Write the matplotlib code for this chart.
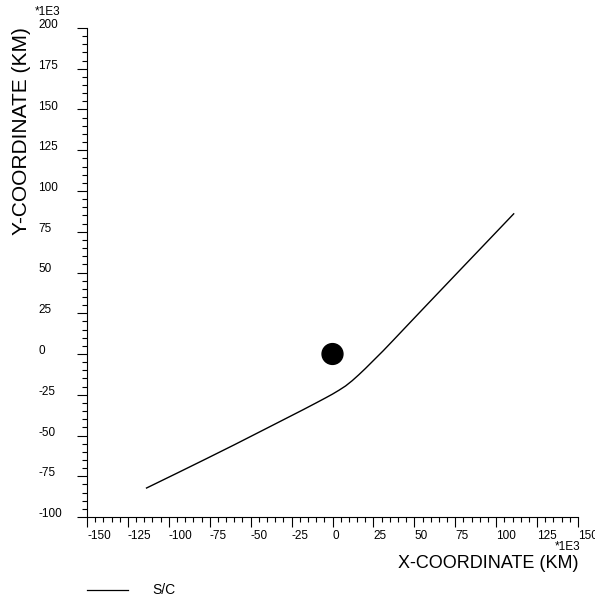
import numpy as np
import matplotlib
matplotlib.use("Agg")
import matplotlib.pyplot as plt
from matplotlib.patches import Circle
from matplotlib.ticker import MultipleLocator, FixedLocator

plt.rcParams['font.family'] = ['Liberation Sans', 'DejaVu Sans']

# Spacecraft trajectory (units of 1E3 km)
traj_x = [-114, -95, -77, -60, -42, -26, -18, -10, -4, 0, 4, 8, 12, 16, 20,
          25, 31, 37, 47, 57.5, 78, 90, 111]
traj_y = [-82.4, -73.1, -64.2, -55.7, -46.5, -38.3, -34.2, -30.0, -26.8, -24.6,
          -22.2, -19.6, -16.4, -12.8, -9.0, -4.0, 2.0, 8.3, 18.9, 30.0, 51.6,
          64.2, 86.3]

# Central body (Earth), radius in 1E3 km
body_center = (0.0, 0.0)
body_radius = 6.378

x_ticks = [-150, -125, -100, -75, -50, -25, 0, 25, 50, 75, 100, 125, 150]
y_ticks = [-100, -75, -50, -25, 0, 25, 50, 75, 100, 125, 150, 175, 200]

W, H = 595, 601
fig = plt.figure(figsize=(W / 100, H / 100), dpi=100)

def fx(px):
    return px / W

def fy(py):
    return 1 - py / H

left, right, top, bottom = 87, 578, 28, 517
ax = fig.add_axes([fx(left), fy(bottom), fx(right) - fx(left), fy(top) - fy(bottom)])

ax.plot(traj_x, traj_y, color='black', lw=1.0, solid_capstyle='butt',
        solid_joinstyle='round')
ax.add_patch(Circle(body_center, body_radius, color='black', zorder=3))

ax.set_xlim(-150, 150)
ax.set_ylim(-100, 200)

for s in ('top', 'right'):
    ax.spines[s].set_visible(False)
for s in ('left', 'bottom'):
    ax.spines[s].set_linewidth(0.8)

ax.xaxis.set_major_locator(FixedLocator(x_ticks))
ax.yaxis.set_major_locator(FixedLocator(y_ticks))
ax.xaxis.set_minor_locator(MultipleLocator(5))
ax.yaxis.set_minor_locator(MultipleLocator(5))
ax.set_xticklabels([str(v) for v in x_ticks])
ax.set_yticklabels([str(v) for v in y_ticks])

ax.tick_params(which='major', direction='out', length=7, width=0.8, labelsize=8.5)
ax.tick_params(which='minor', direction='out', length=3.6, width=0.8)
ax.tick_params(axis='x', which='major', pad=2.5)
ax.tick_params(axis='y', which='major', pad=28)

for lbl in ax.get_xticklabels():
    lbl.set_ha('left')
for lbl in ax.get_yticklabels():
    lbl.set_ha('left')
    lbl.set_va('baseline')

# Axis titles and scale factors
fig.text(fx(578), fy(563), 'X-COORDINATE (KM)', ha='right', va='center', fontsize=13)
fig.text(fx(22), fy(27), 'Y-COORDINATE (KM)', ha='center', va='top', rotation=90, fontsize=15)
fig.text(fx(580), fy(547.5), '*1E3', ha='right', va='center', fontsize=8.5)
fig.text(fx(35), fy(12), '*1E3', ha='left', va='center', fontsize=8.5)

# Legend entry
fig.add_artist(plt.Line2D([fx(87), fx(128)], [fy(590), fy(590)], color='black', lw=0.9))
fig.text(fx(152), fy(590), 'S/C', ha='left', va='center', fontsize=10)

fig.savefig('out.png', dpi=100)
